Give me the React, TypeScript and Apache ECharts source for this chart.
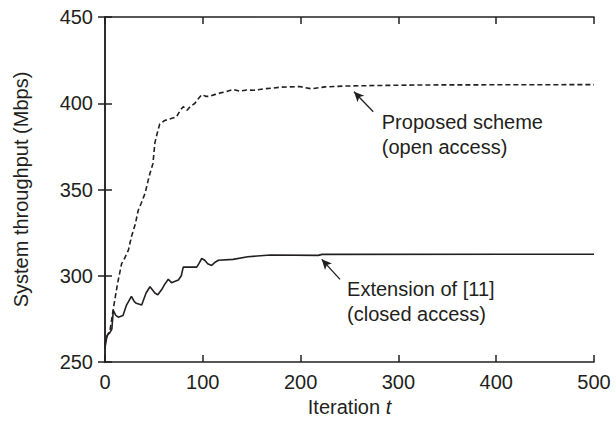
import React, { useEffect, useRef } from "react";
import * as echarts from "echarts";

const proposedIter = [0, 2, 5, 8, 10, 13, 17, 20, 24, 27, 31, 34, 37, 41, 44, 46, 49, 51, 54, 56, 61, 67, 73, 77, 80, 84, 87, 92, 96, 99, 103, 107, 112, 118, 124, 131, 138, 145, 152, 158, 165, 172, 179, 186, 199, 211, 225, 247, 280, 320, 400, 500];
const proposedVal = [260, 265, 268, 279, 286, 296, 307, 310, 315, 322.6, 330, 338, 342, 347.8, 355, 359.4, 365, 377, 384, 388, 390, 391, 392, 396, 398, 396, 398, 400, 403, 405, 404, 404, 405, 406, 406.7, 408, 407, 407.7, 407.5, 408, 408.5, 408.8, 409.3, 409.4, 409.7, 408.4, 409.5, 410, 410.3, 410.6, 410.7, 410.8];

const extIter = [0, 1, 2.4, 5, 7, 8.5, 11, 13.6, 18.4, 22, 27, 30, 32, 37.5, 42, 46, 51, 54, 58, 61, 64.7, 68, 75, 78, 80, 93.8, 96, 98.9, 102, 105, 109, 113, 116, 131, 146, 169, 218, 222, 500];
const extVal = [258, 262, 265.6, 267, 269, 280, 277, 276, 277, 283, 288, 285, 284, 283, 290, 293.6, 290, 289, 292, 295, 298, 296, 297.5, 300, 305, 305, 307, 310, 309, 307, 306, 308, 309, 309.5, 311, 312, 311.8, 312.4, 312.5];

const xTicks = { min: 0, max: 500, interval: 100 };
const yTicks = { min: 250, max: 450, interval: 50 };

const INK = "#231f20";
const FONT = "'Liberation Sans', Arial, Helvetica, sans-serif";

export default function App() {
  const ref = useRef<HTMLDivElement>(null);
  useEffect(() => {
    document.body.style.margin = "0";
    const chart = echarts.init(ref.current!, null, { renderer: "svg" });
    const axisCommon = {
      axisLine: { show: true, lineStyle: { color: INK, width: 1.5 } },
      axisTick: { show: true, inside: true, length: 7, lineStyle: { color: INK, width: 1.5 } },
      splitLine: { show: false },
    };
    const mirror = {
      ...axisCommon,
      axisLabel: { show: false },
    };
    chart.setOption({
      animation: false,
      textStyle: { fontFamily: FONT, color: INK },
      grid: { left: 105, right: 22, top: 17, bottom: 69 },
      xAxis: [
        {
          type: "value",
          ...xTicks,
          ...axisCommon,
          name: "Iteration {i|t}",
          nameLocation: "middle",
          nameGap: 34,
          nameTextStyle: {
            fontSize: 20,
            color: INK,
            fontFamily: FONT,
            rich: { i: { fontStyle: "italic", fontSize: 20, color: INK, fontFamily: FONT } },
          },
          axisLabel: { fontSize: 20, color: INK, margin: 10, fontFamily: FONT },
        },
        { type: "value", position: "top", ...xTicks, ...mirror },
      ],
      yAxis: [
        {
          type: "value",
          ...yTicks,
          ...axisCommon,
          name: "System throughput (Mbps)",
          nameLocation: "middle",
          nameGap: 74,
          nameTextStyle: { fontSize: 20, color: INK, fontFamily: FONT },
          axisLabel: { fontSize: 20, color: INK, margin: 12, fontFamily: FONT },
        },
        { type: "value", position: "right", ...yTicks, ...mirror },
      ],
      series: [
        {
          type: "line",
          name: "Proposed scheme (open access)",
          data: proposedIter.map((x, i) => [x, proposedVal[i]]),
          showSymbol: false,
          symbol: "none",
          lineStyle: { color: INK, width: 1.6, type: [5, 3] },
          markLine: {
            silent: true,
            symbol: ["none", "arrow"],
            symbolSize: [7, 10],
            label: { show: false },
            lineStyle: { color: INK, width: 1.3, type: "solid" },
            data: [[{ coord: [274.3, 395.1] }, { coord: [254.6, 406.7] }]],
          },
          markPoint: {
            silent: true,
            symbol: "circle",
            symbolSize: 0,
            data: [
              {
                coord: [283, 382],
                label: {
                  show: true,
                  position: [0, 0],
                  align: "left",
                  verticalAlign: "middle",
                  formatter: "Proposed scheme\n(open access)",
                  fontSize: 20,
                  lineHeight: 25,
                  color: INK,
                  fontFamily: FONT,
                },
              },
            ],
          },
        },
        {
          type: "line",
          name: "Extension of [11] (closed access)",
          data: extIter.map((x, i) => [x, extVal[i]]),
          showSymbol: false,
          symbol: "none",
          lineStyle: { color: INK, width: 1.6, type: "solid" },
          markLine: {
            silent: true,
            symbol: ["none", "arrow"],
            symbolSize: [7, 10],
            label: { show: false },
            lineStyle: { color: INK, width: 1.3, type: "solid" },
            data: [[{ coord: [240.3, 297.9] }, { coord: [221.6, 309.5] }]],
          },
          markPoint: {
            silent: true,
            symbol: "circle",
            symbolSize: 0,
            data: [
              {
                coord: [247.5, 285],
                label: {
                  show: true,
                  position: [0, 0],
                  align: "left",
                  verticalAlign: "middle",
                  formatter: "Extension of [11]\n(closed access)",
                  fontSize: 20,
                  lineHeight: 25,
                  color: INK,
                  fontFamily: FONT,
                },
              },
            ],
          },
        },
      ],
    });
    return () => chart.dispose();
  }, []);
  return <div ref={ref} style={{ width: 616, height: 431 }} />;
}
